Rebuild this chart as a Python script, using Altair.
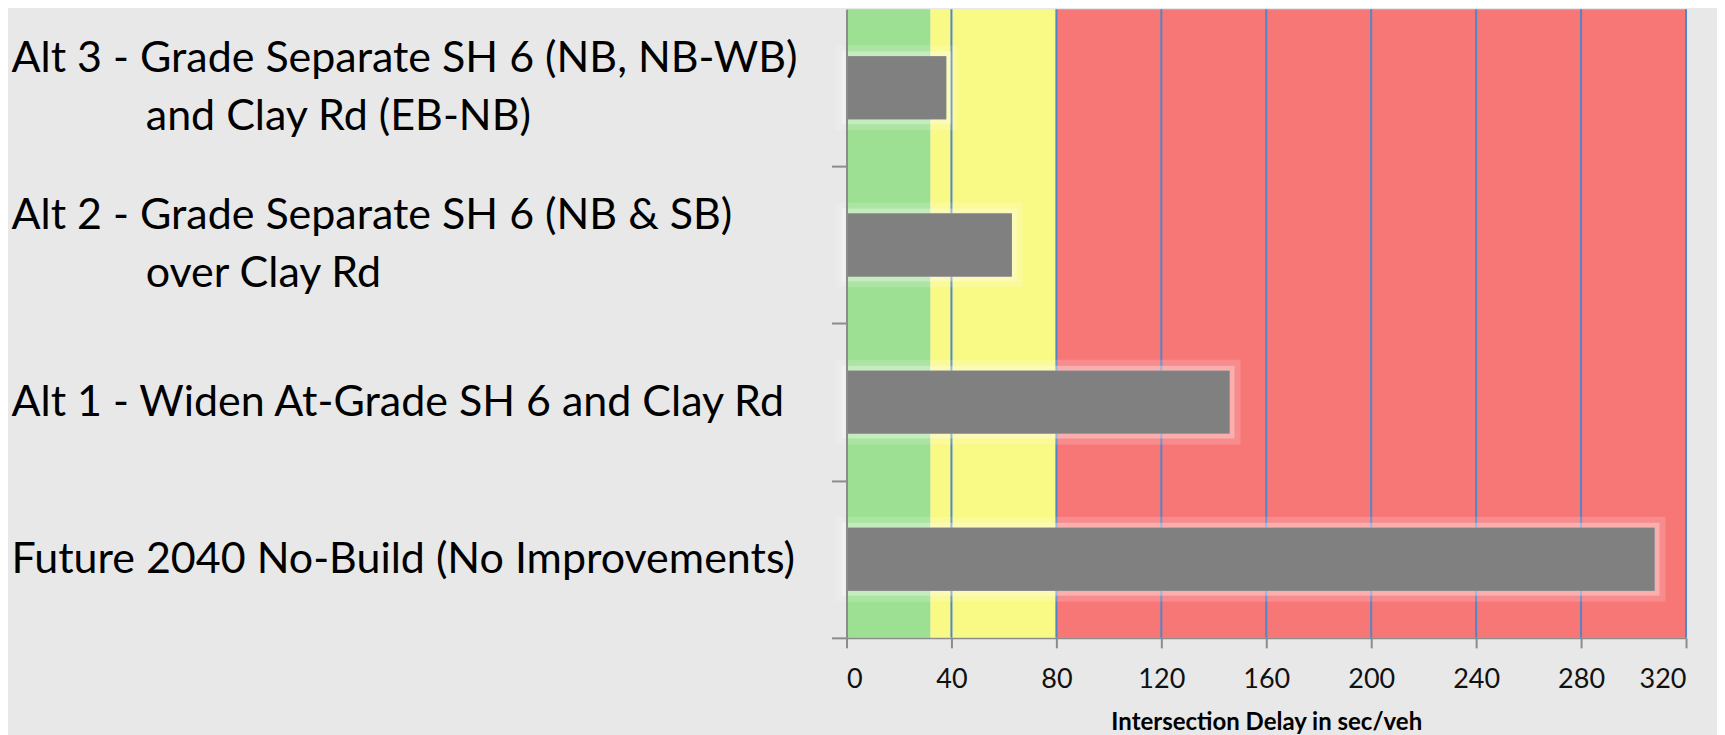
import altair as alt
import pandas as pd

# ---- data ----
INDENT = "\u200b\u2003\u2003\u2003\u2003\u2009"
labels = [
    "Alt 3 - Grade Separate SH 6 (NB, NB-WB)|" + INDENT + "and Clay Rd (EB-NB)",
    "Alt 2 - Grade Separate SH 6 (NB & SB)|" + INDENT + "over Clay Rd",
    "Alt 1 - Widen At-Grade SH 6 and Clay Rd",
    "Future 2040 No-Build (No Improvements)",
]
delays = [38, 63, 146, 308]

band_levels = ["good", "fair", "poor"]
band_start = [0, 32, 80]
band_end = [32, 80, 320]
band_colors = ["#9de093", "#f9f986", "#f77777"]

x_ticks = [0, 40, 80, 120, 160, 200, 240, 280, 320]
grid_ticks = [40, 80, 120, 160, 200, 240, 280, 320]

bars_df = pd.DataFrame({"label": labels, "delay": delays})
bands_df = pd.DataFrame({"level": band_levels, "start": band_start, "end": band_end})
grid_df = pd.DataFrame({"tick": grid_ticks})

FONT = "Lato"
xscale = alt.Scale(domain=[0, 320], nice=False, zero=True)
yscale = alt.Scale(paddingInner=0.6, paddingOuter=0.3)
HALF_STEP = 78.6

x_axis = alt.Axis(
    values=x_ticks,
    title="Intersection Delay in sec/veh",
    titleFont=FONT,
    titleFontSize=24,
    titleFontWeight="bold",
    titleColor="#000000",
    titleY=92,
    titleBaseline="alphabetic",
    labelFont=FONT,
    labelFontSize=27,
    labelColor="#111111",
    labelPadding=19,
    tickSize=10,
    tickWidth=2,
    tickColor="#8c8c8c",
    domainColor="#8c8c8c",
    domainWidth=2,
    grid=False,
)

y_axis = alt.Axis(
    title=None,
    labelExpr="split(datum.label, '|')",
    labelAlign="left",
    labelBaseline="middle",
    labelPadding=821,
    labelFont=FONT,
    labelFontSize=43,
    labelLineHeight=58,
    labelColor="#000000",
    labelLimit=0,
    labelOffset={
        "condition": {"test": "indexof(datum.value, '|') >= 0", "value": -HALF_STEP - 29},
        "value": -HALF_STEP,
    },
    tickOffset=HALF_STEP,
    tickSize=15,
    tickWidth=2,
    tickColor="#8c8c8c",
    domainColor="#8c8c8c",
    domainWidth=2,
    grid=False,
    zindex=1,
)

bars = alt.Chart(bars_df).mark_bar(color="#808080").encode(
    y=alt.Y("label:N", sort=labels, scale=yscale, axis=y_axis),
    x=alt.X("delay:Q", scale=xscale, axis=x_axis),
)

glow_outer = alt.Chart(bars_df).mark_bar(
    color="#808080", stroke="white", strokeWidth=22, strokeOpacity=0.15
).encode(
    y=alt.Y("label:N", sort=labels, scale=yscale, axis=y_axis),
    x=alt.X("delay:Q", scale=xscale, axis=x_axis),
)

glow_inner = alt.Chart(bars_df).mark_bar(
    color="#808080", stroke="white", strokeWidth=10, strokeOpacity=0.3
).encode(
    y=alt.Y("label:N", sort=labels, scale=yscale, axis=y_axis),
    x=alt.X("delay:Q", scale=xscale, axis=x_axis),
)

bands = alt.Chart(bands_df).mark_rect().encode(
    x=alt.X("start:Q", scale=xscale, axis=x_axis),
    x2="end:Q",
    color=alt.Color("level:N", scale=alt.Scale(domain=band_levels, range=band_colors), legend=None),
)

grid = alt.Chart(grid_df).mark_rule(color="#4f86cc", strokeWidth=2).encode(
    x=alt.X("tick:Q", scale=xscale, axis=x_axis),
)

chart = alt.layer(bands, grid, glow_outer, glow_inner, bars).properties(
    width=840,
    height=629,
    background="#e8e8e8",
    padding={"left": 3, "top": 0, "right": 30, "bottom": 0},
).configure_view(stroke=None)

chart.save("out.html", embed_options={"renderer": "svg", "actions": False})
